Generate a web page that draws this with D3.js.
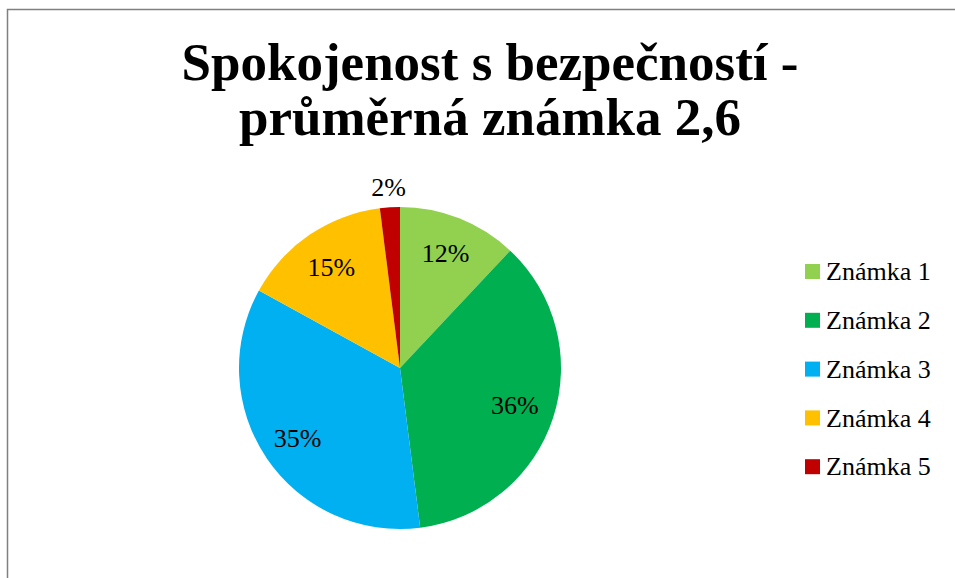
<!DOCTYPE html>
<html><head><meta charset="utf-8">
<script src="https://cdn.jsdelivr.net/npm/d3@7"></script>
<style>body{margin:0;background:#fff}svg{display:block}</style>
</head><body>
<script>
const categories = ["Známka 1","Známka 2","Známka 3","Známka 4","Známka 5"];
const values = [12, 36, 35, 15, 2];
const colors = ["#92d050","#00b050","#00b0f0","#ffc000","#c00000"];
const titleLines = ["Spokojenost s bezpečností -","průměrná známka 2,6"];

const W = 955, H = 578;
const svg = d3.select("body").append("svg").attr("width",W).attr("height",H);
svg.append("rect").attr("width",W).attr("height",H).attr("fill","#fff");
svg.append("path").attr("d",`M7.5,${H} V9.5 H${W}`).attr("fill","none").attr("stroke","#808080").attr("stroke-width",1.5);

const font = "'Liberation Serif','DejaVu Serif',serif";
svg.append("g").selectAll("text").data(titleLines).join("text")
  .attr("x",490).attr("y",(d,i)=>80+i*55)
  .attr("text-anchor","middle").attr("font-family",font).attr("font-weight","bold")
  .attr("font-size",53).attr("fill","#000").text(d=>d);

const cx = 400, cy = 368, r = 161;
const pie = d3.pie().sort(null).value(d=>d)(values);
const arc = d3.arc().innerRadius(0).outerRadius(r);
const g = svg.append("g").attr("transform",`translate(${cx},${cy})`);
g.selectAll("path").data(pie).join("path").attr("d",arc).attr("fill",(d,i)=>colors[i]);

const labelR = [0.77,0.75,0.77,0.76,1.13];
const lbl = svg.append("g").attr("transform",`translate(${cx},${cy})`);
lbl.selectAll("text").data(pie).join("text")
  .attr("transform",(d,i)=>{const c=d3.arc().innerRadius(r*labelR[i]).outerRadius(r*labelR[i]).centroid(d);return `translate(${c[0]},${c[1]})`;})
  .attr("text-anchor","middle").attr("dy","0.35em")
  .attr("font-family",font).attr("font-size",26).attr("fill","#000")
  .text(d=>d.data+"%");

const leg = svg.append("g").selectAll("g").data(categories).join("g")
  .attr("transform",(d,i)=>`translate(805,${271+i*48.8})`);
leg.append("rect").attr("x",0).attr("y",-7).attr("width",15).attr("height",15).attr("fill",(d,i)=>colors[i]);
leg.append("text").attr("x",21).attr("dy","0.35em").attr("font-family",font).attr("font-size",26).attr("fill","#000").text(d=>d);
</script>
</body></html>
